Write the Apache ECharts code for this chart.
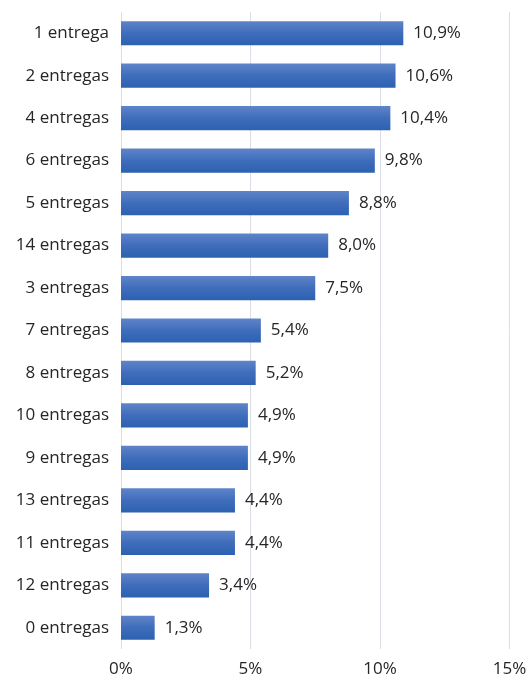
<!DOCTYPE html>
<html><head><meta charset="utf-8">
<script src="https://cdn.jsdelivr.net/npm/echarts@6/dist/echarts.min.js"></script>
<style>html,body{margin:0;padding:0;background:#fff}#c{width:530px;height:678px}</style>
</head><body><div id="c"></div>
<script>
const categories = ["1 entrega","2 entregas","4 entregas","6 entregas","5 entregas","14 entregas","3 entregas","7 entregas","8 entregas","10 entregas","9 entregas","13 entregas","11 entregas","12 entregas","0 entregas"];
const values = [10.9,10.6,10.4,9.8,8.8,8.0,7.5,5.4,5.2,4.9,4.9,4.4,4.4,3.4,1.3];
const xTicks = [0,5,10,15];
const font = '"Open Sans", "Noto Sans", sans-serif';
const chart = echarts.init(document.getElementById('c'), null, {renderer:'canvas'});
chart.setOption({
  animation:false,
  grid:{left:121,right:20.5,top:12,bottom:27,containLabel:false},
  xAxis:{type:'value',min:xTicks[0],max:xTicks[xTicks.length-1],interval:5,
    axisLine:{show:false},axisTick:{show:false},
    splitLine:{show:true,lineStyle:{color:'#d9dee7',width:1}},
    axisLabel:{margin:12,fontSize:17,color:'#262626',fontFamily:font,formatter:v=>v+'%'}},
  yAxis:{type:'category',data:categories,inverse:true,
    axisLine:{show:false},axisTick:{show:false},
    axisLabel:{margin:12,fontSize:17,color:'#262626',fontFamily:font}},
  series:[{type:'bar',data:values,barWidth:'57%',
    itemStyle:{color:new echarts.graphic.LinearGradient(0,0,0,1,[{offset:0,color:'#5f84c9'},{offset:0.5,color:'#3f6dbb'},{offset:1,color:'#2c61b1'}])},
    label:{show:true,position:'right',distance:10,fontSize:17,color:'#262626',fontFamily:font,
      formatter:p=>p.value.toFixed(1).replace('.',',')+'%'}}]
});
</script></body></html>
